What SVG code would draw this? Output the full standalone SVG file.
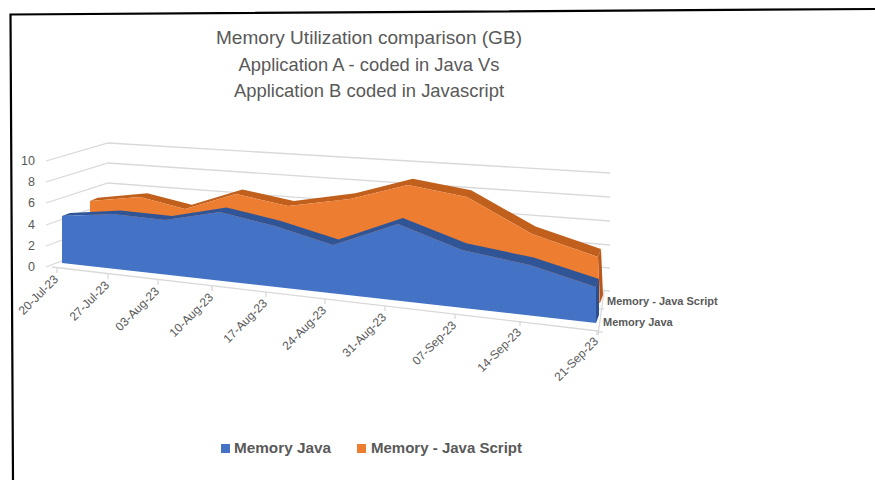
<svg xmlns="http://www.w3.org/2000/svg" width="875" height="480" viewBox="0 0 875 480">
<style>
.t{font-family:"Liberation Sans",Arial,sans-serif;fill:#595959}
.ttl{font-size:19px;text-anchor:middle}
.ax{font-size:12.5px;text-anchor:end}
.dt{font-size:12px;text-anchor:end}
.lg{font-size:14px;font-weight:bold}
.dl{font-size:11px;font-weight:bold}
.grid{fill:none;stroke:#d9d9d9;stroke-width:1.3}
.axl{fill:none;stroke:#d9d9d9;stroke-width:1.3}
</style>
<rect width="875" height="480" fill="#ffffff"/>
<g id="frame" fill="none" stroke="#000" stroke-width="2.2">
<polyline points="13,480 10.5,14.5 875,9"/>
</g>
<g id="title" class="t ttl">
<text x="369" y="44" textLength="306" lengthAdjust="spacingAndGlyphs">Memory Utilization comparison (GB)</text>
<text x="369" y="71" textLength="261" lengthAdjust="spacingAndGlyphs">Application A - coded in Java Vs</text>
<text x="369" y="97" textLength="270" lengthAdjust="spacingAndGlyphs">Application B coded in Javascript</text>
</g>
<g id="gridlines" class="grid">
<polyline points="46,161 108,143 610,173"/>
<polyline points="46,182 108,163 610,197"/>
<polyline points="46,203 108,183 610,221"/>
<polyline points="46,225 108,203 610,245"/>
<polyline points="46,246 108,223 610,268"/>
<polyline points="46,267 108,243 610,291"/>
</g>
<g id="axes" class="axl">
<line x1="52" y1="267" x2="598" y2="331"/>
<line x1="598" y1="335" x2="604" y2="291"/>
<line x1="599" y1="309" x2="604" y2="309"/>
<line x1="598" y1="332" x2="603" y2="332"/>
<path d="M57,268v5M108,274v5M158,280v5M212,286v5M266,292v5M325,299v5M385,306v5M455,314v5M520,321v5M597,330v5"/>
</g>
<g id="y-labels" class="t ax">
<text x="35" y="165">10</text>
<text x="35" y="186">8</text>
<text x="35" y="207">6</text>
<text x="35" y="229">4</text>
<text x="35" y="250">2</text>
<text x="35" y="271">0</text>
</g>
<g id="series-javascript">
<polygon fill="#c0601c" points="90,201 140,197 185,209 236,194 288,206 350,199 408,185 467,197 532,234 598,257 601,249 535.6,226.6 471.2,190.2 412.8,178.8 355.3,193.3 293.9,200.9 242.4,189.4 191.8,204.8 147.3,193.3 97.7,197.7"/>
<polygon fill="#b9581a" points="598,257 601,249 603,295 600,303"/>
<polygon fill="#ed7d31" points="90,201 140,197 185,209 236,194 288,206 350,199 408,185 467,197 532,234 598,257 600,303 90,252"/>
</g>
<g id="series-java">
<polygon fill="#2f5597" points="62,216 113,214 165,220 220,212 275,226 333,245 398,224 462,250 530,265 596,287 599,279 533.6,257.6 466.3,243.3 402.9,217.9 338.5,239.5 281,221 226.5,207.5 172,216 120.5,210.5 70,213"/>
<polygon fill="#2b4f8f" points="596,287 599,279 599,315 596,323"/>
<polygon fill="#4472c4" points="62,216 113,214 165,220 220,212 275,226 333,245 398,224 462,250 530,265 596,287 596,323 62,263"/>
</g>
<g id="depth-labels" class="t dl">
<text x="607" y="305">Memory - Java Script</text>
<text x="603" y="326">Memory Java</text>
</g>
<g id="date-labels" class="t dt">
<text transform="translate(59,280) rotate(-45)">20-Jul-23</text>
<text transform="translate(110,286) rotate(-45)">27-Jul-23</text>
<text transform="translate(160,292) rotate(-45)">03-Aug-23</text>
<text transform="translate(214,298) rotate(-45)">10-Aug-23</text>
<text transform="translate(268,304) rotate(-45)">17-Aug-23</text>
<text transform="translate(327,311) rotate(-45)">24-Aug-23</text>
<text transform="translate(387,318) rotate(-45)">31-Aug-23</text>
<text transform="translate(457,326) rotate(-45)">07-Sep-23</text>
<text transform="translate(522,333) rotate(-45)">14-Sep-23</text>
<text transform="translate(599,342) rotate(-45)">21-Sep-23</text>
</g>
<g id="legend">
<rect x="221" y="444" width="9" height="9" fill="#4472c4"/>
<text class="t lg" x="234" y="453" textLength="97" lengthAdjust="spacingAndGlyphs">Memory Java</text>
<rect x="357" y="444" width="9" height="9" fill="#ed7d31"/>
<text class="t lg" x="371" y="453" textLength="151" lengthAdjust="spacingAndGlyphs">Memory - Java Script</text>
</g>
</svg>
